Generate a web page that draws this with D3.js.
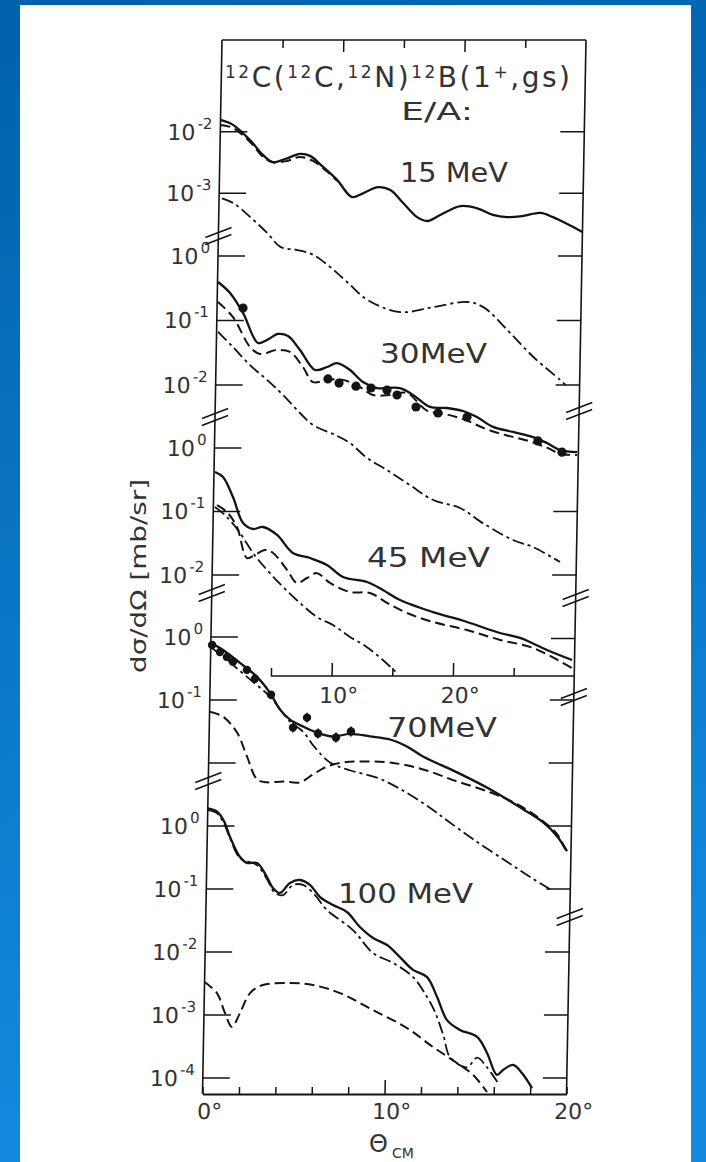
<!DOCTYPE html>
<html><head><meta charset="utf-8">
<script src="https://cdn.jsdelivr.net/npm/d3@7"></script>
<style>body{margin:0;background:#fff}svg{display:block}</style>
</head><body>
<svg id="c" width="706" height="1162"></svg>
<script>
// ---------------- DATA (theta in degrees c.m., dσ/dΩ in mb/sr) ----------------
const panels = ["15", "30", "45", "70", "100"];
const energyLabels = ["15 MeV", "30MeV", "45 MeV", "70MeV", "100 MeV"];

const mev15Solid = [[0,1.55e-2],[1.04,1.29e-2],[2.46,7.3e-3],[3.55,4.2e-3],[4.38,3.2e-3],[5.54,3.7e-3],[6.6,4.35e-3],[7.43,4.05e-3],[8.5,2.7e-3],[9.7,1.65e-3],[10.95,8.7e-4],[11.85,1.0e-3],[13.1,1.26e-3],[14.1,1.13e-3],[15.2,6.9e-4],[16.35,4.1e-4],[17.2,3.55e-4],[18.25,4.45e-4],[19.9,6.2e-4],[21.3,5.7e-4],[22.6,4.45e-4],[23.75,4.1e-4],[25.1,4.3e-4],[26.5,4.8e-4],[27.55,4.1e-4],[28.7,3.2e-4],[30,2.35e-4]];
const mev15Dashed = [[0,1.29e-2],[1.05,1.15e-2],[2.47,6.8e-3],[3.56,3.9e-3],[4.38,3.2e-3],[5.54,3.35e-3],[6.6,3.9e-3],[7.68,3.35e-3],[8.93,2.2e-3],[9.7,1.6e-3]];
const mev15DashDot = [[0.24,8.3e-4],[1.18,6.95e-4],[2.6,4.1e-4],[4.03,2.26e-4],[5.13,1.35e-4],[6.53,1.2e-4],[7.86,1.0e-4],[9.28,6.3e-5],[10.7,3.6e-5],[12.4,1.85e-5],[15.1,1.18e-5],[17.8,1.42e-5],[20.6,1.72e-5],[21.95,1.42e-5],[23.97,6.0e-6],[26.15,2.2e-6],[28.4,9.3e-7],[28.83,7.8e-7]];

const mev30Solid = [[0.04,0.395],[1.05,0.267],[2.15,0.131],[3.43,0.0448],[4.17,0.0499],[5.06,0.0618],[5.89,0.0575],[6.9,0.0349],[8.17,0.0171],[9.15,0.019],[9.97,0.0219],[11.05,0.0171],[12.14,0.0111],[13.3,8.98e-3],[15.2,8.98e-3],[16.29,7.0e-3],[17.7,4.57e-3],[19.1,4.4e-3],[20.43,3.95e-3],[21.59,3.19e-3],[22.93,2.24e-3],[24.58,1.87e-3],[26.24,1.56e-3],[27.4,1.26e-3],[28.5,9.8e-4],[29.9,9.1e-4]];
const mev30Dashed = [[0.07,0.194],[1.33,0.113],[2.78,0.0388],[3.61,0.0303],[5.0,0.0349],[6.08,0.0325],[7.17,0.019],[8.02,0.0111],[9.17,0.012],[10.5,0.012],[11.9,9.3e-3],[12.98,7.0e-3],[14.39,7.0e-3],[15.78,7.5e-3],[17.46,4.0e-3],[19.1,3.5e-3],[20.77,2.8e-3],[22.43,2.05e-3],[24.09,1.65e-3],[25.74,1.38e-3],[27.4,1.07e-3],[28.5,8.6e-4],[29.9,8.2e-4]];
const mev30DashDot = [[0.12,0.0664],[1.37,0.0388],[2.8,0.0204],[4.23,0.012],[5.57,7.0e-3],[7.0,3.68e-3],[8.09,2.4e-3],[9.92,1.68e-3],[11.16,1.26e-3],[12.59,7.4e-4],[14.25,4.8e-4],[16.17,2.8e-4],[18.1,1.65e-4],[20.33,1.24e-4],[22.25,7.2e-5],[24.75,3.95e-5],[26.4,3.08e-5],[28.65,1.8e-5]];
const mev30Data = [[2.14,0.156],[9.25,0.0124],[10.17,0.0107],[11.57,9.6e-3],[12.81,8.98e-3],[14.13,8.36e-3],[14.97,7.0e-3],[16.55,4.56e-3],[18.37,3.68e-3],[20.77,3.19e-3],[26.65,1.36e-3],[28.65,9.1e-4]];

const mev45Solid = [[0.08,0.419],[0.75,0.349],[1.6,0.169],[2.47,0.0659],[3.3,0.053],[4.12,0.057],[5.29,0.0427],[6.63,0.0222],[8.04,0.0185],[9.45,0.0144],[10.79,9.3e-3],[12.78,7.76e-3],[14.1,5.8e-3],[15.52,4.04e-3],[18.26,2.61e-3],[21.08,1.82e-3],[23.81,1.22e-3],[25.47,1.02e-3],[27.71,6.6e-4],[29.8,4.58e-4]];
const mev45Dashed = [[0.3,0.126],[1.13,0.098],[1.98,0.057],[2.85,0.0185],[3.5,0.0207],[4.32,0.0248],[4.99,0.0222],[6.17,0.012],[7.0,7.5e-3],[7.83,8.97e-3],[8.64,0.0107],[9.73,7.5e-3],[11.39,5.4e-3],[13.04,5.2e-3],[14.46,3.63e-3],[16.12,2.52e-3],[18.28,1.82e-3],[21.09,1.36e-3],[23.83,9.5e-4],[26.56,7.1e-4],[29.8,3.43e-4]];
const mev45DashDot = [[0.13,0.118],[1.14,0.0819],[2.24,0.0458],[3.34,0.0222],[4.52,0.012],[5.86,6.5e-3],[7.29,3.62e-3],[8.71,2.18e-3],[10.04,1.63e-3],[11.46,1.06e-3],[12.88,7.3e-4],[14.2,4.58e-4],[15.39,2.86e-4]];

const mev70Solid = [[0,0.804],[0.68,0.623],[1.62,0.388],[2.57,0.233],[3.3,0.13],[3.87,0.0703],[4.43,0.0489],[5.15,0.0379],[5.93,0.0304],[6.81,0.0263],[7.74,0.029],[8.84,0.0265],[9.94,0.0236],[10.88,0.0183],[11.77,0.0127],[13.66,7.1e-3],[15.49,3.83e-3],[17.32,1.85e-3],[18.43,1.15e-3],[19.22,6.9e-4],[19.78,4.0e-4]];
const mev70Dashed = [[0.02,0.0653],[0.74,0.0545],[1.53,0.0304],[2.1,0.0127],[2.68,5.5e-3],[3.23,4.94e-3],[4.11,5.1e-3],[5.04,4.94e-3],[5.75,6.6e-3],[6.51,8.8e-3],[7.39,0.0102],[8.48,0.0106],[9.97,0.0102],[11.79,7.9e-3],[13.67,5.1e-3],[15.49,3.43e-3],[16.99,2.22e-3],[18.27,1.29e-3],[19.22,7.4e-4],[19.67,4.3e-4]];
const mev70DashDot = [[0,0.695],[0.9,0.433],[2.02,0.233],[3.3,0.113],[4.43,0.0454],[5.15,0.0316],[5.8,0.018],[6.67,0.0102],[7.8,7.6e-3],[9.3,5.8e-3],[10.6,3.8e-3],[12.2,1.95e-3],[13.2,1.2e-3],[14.6,6.2e-4],[16.5,2.7e-4],[17.94,1.45e-4],[19.05,9.3e-5]];
const mev70Data = [[0.07,0.748],[0.51,0.579],[0.9,0.483],[1.24,0.403],[2.01,0.301],[2.46,0.217],[3.36,0.121],[4.6,0.0365],[5.36,0.0525],[5.98,0.0294],[6.97,0.0254],[7.79,0.0316]];
const mev70Err = [0.15,0.15,0.15,0.15,0.15,0.15,0.15,0.2,0.2,0.2,0.2,0.2];

const mev100Solid = [[0.01,1.9],[0.5,1.7],[0.9,1.2],[1.25,0.67],[1.82,0.322],[2.21,0.259],[2.76,0.259],[3.32,0.155],[3.66,0.104],[4.05,0.0865],[4.59,0.1245],[5.14,0.139],[5.69,0.116],[6.26,0.0746],[6.98,0.0557],[7.75,0.0431],[8.48,0.0249],[9.21,0.0167],[9.99,0.0129],[10.71,8.3e-3],[11.44,5.2e-3],[12.22,4.0e-3],[12.79,1.93e-3],[13.36,8.3e-4],[14.08,5.8e-4],[15.03,4.5e-4],[15.59,2.5e-4],[16.16,1.12e-4],[16.49,1.34e-4],[17.03,1.61e-4],[17.53,1.2e-4],[18.1,6.9e-5]];
const mev100DashDot = [[0.01,1.79],[0.5,1.6],[0.9,1.1],[1.25,0.645],[1.82,0.31],[2.76,0.24],[3.32,0.144],[3.78,0.0865],[4.22,0.08],[4.76,0.116],[5.31,0.116],[5.98,0.08],[6.65,0.0464],[8.1,0.0223],[9.23,9.6e-3],[10.34,6.7e-3],[11.45,4.0e-3],[12.24,1.93e-3],[12.7,1.1e-3],[13.2,4.5e-4],[13.56,2.15e-4],[14.5,1.48e-4],[15.05,2.1e-4],[15.6,1.48e-4],[16.23,8.3e-5]];
const mev100Dashed = [[0,3.34e-3],[0.69,2.23e-3],[1.15,1.08e-3],[1.55,6.45e-4],[1.98,1.08e-3],[2.51,2.23e-3],[3.21,2.99e-3],[4.7,3.22e-3],[5.96,2.99e-3],[7.45,2.23e-3],[9.28,1.2e-3],[11.17,6.2e-4],[12.62,3.1e-4],[13.95,1.73e-4],[14.85,1.12e-4],[15.63,6.0e-5]];

// tick exponents per panel
const leftTicks = [["15",-2],["15",-3],["30",0],["30",-1],["30",-2],["45",0],["45",-1],["45",-2],["70",0],["70",-1],["70",-2],["100",0],["100",-1],["100",-2],["100",-3],["100",-4]];
const leftLabelled = [["15",-2],["15",-3],["30",0],["30",-1],["30",-2],["45",0],["45",-1],["45",-2],["70",0],["70",-1],["100",0],["100",-1],["100",-2],["100",-3],["100",-4]];
const rightTicks = [["15",-2],["15",-3],["30",0],["30",-1],["30",-2],["45",-1],["45",-2],["45",-3],["70",-1],["70",-2],["100",0],["100",-1],["100",-2],["100",-3],["100",-4]];
const topAxisTicks = [5,10,15,20,25];
const innerAxisTicks = [5,10,15,20,25];
const bottomAxisTicks = [0,2,4,6,8,10,12,14,16,18,20];

// ---------------- LAYOUT ----------------
const W = 364, H = 1054;
const panelLayout = {
  "15":  {dom:[1e-2,1e-3], rng:[91.7,153.3], sec:"top"},
  "30":  {dom:[1,1e-2],    rng:[216,345],    sec:"top"},
  "45":  {dom:[1,1e-2],    rng:[408,535],    sec:"top"},
  "70":  {dom:[1,1e-1],    rng:[597,660],    sec:"bot"},
  "100": {dom:[1,1e-4],    rng:[786,1038],   sec:"bot"}
};
const leftBreaks = [196, 377, 553, 741];
const rightBreaks = [371, 558, 657, 877];
const innerAxisY = 636;

const FONT = "'DejaVu Sans', sans-serif";
const INK = "#141414", TXT = "#333333";

const svg = d3.select("#c");
const defs = svg.append("defs");
const gr = defs.append("linearGradient").attr("id","bg").attr("x1",0).attr("y1",0).attr("x2",0.15).attr("y2",1);
gr.append("stop").attr("offset","0%").attr("stop-color","#0061ab");
gr.append("stop").attr("offset","100%").attr("stop-color","#148ade");
svg.append("rect").attr("width",706).attr("height",1162).attr("fill","url(#bg)");
svg.append("rect").attr("x",20).attr("y",5).attr("width",671).attr("height",1160).attr("fill","#fff");

const xTop = d3.scaleLinear().domain([0,30]).range([0,W]);
const xBot = d3.scaleLinear().domain([0,20]).range([0,W]);
const yS = {};
panels.forEach(p => { yS[p] = d3.scaleLog().domain(panelLayout[p].dom).range(panelLayout[p].rng); });
const xS = p => panelLayout[p].sec === "top" ? xTop : xBot;

const plot = svg.append("g").attr("transform","translate(222,40) skewX(-1.06)");

// frame
const frame = plot.append("g").attr("stroke",INK).attr("stroke-width",1.6).attr("fill","none");
frame.append("line").attr("x1",0).attr("y1",0).attr("x2",0).attr("y2",H);
frame.append("line").attr("x1",W).attr("y1",0).attr("x2",W).attr("y2",H);
frame.append("line").attr("x1",0).attr("y1",0).attr("x2",W).attr("y2",0);

// top axis (0-30 deg) ticks hanging down
const topAx = plot.append("g").call(d3.axisTop(xTop).tickValues(topAxisTicks).tickSize(-8).tickSizeOuter(0).tickFormat(""));
topAx.select(".domain").remove();
topAx.selectAll(".tick line").attr("stroke",INK).attr("stroke-width",1.5).attr("y2", d => d % 10 === 0 ? 12 : 8);

// inner axis for upper section (0-30 deg)
const inner = plot.append("g").attr("transform",`translate(0,${innerAxisY})`)
  .call(d3.axisBottom(xTop).tickValues(innerAxisTicks).tickSize(-8).tickPadding(11).tickSizeOuter(0)
    .tickFormat(d => d % 10 === 0 ? d + "°" : ""));
inner.select(".domain").remove();
inner.append("line").attr("x1",xTop(5)).attr("x2",xTop(30)).attr("stroke",INK).attr("stroke-width",1.6);
inner.selectAll(".tick line").attr("stroke",INK).attr("stroke-width",1.5).attr("y2", d => d % 10 === 0 ? -13 : -8);
inner.selectAll(".tick text").attr("font-family",FONT).attr("font-size",22).attr("fill",TXT).attr("dx",7);

// bottom axis (0-20 deg)
const bot = plot.append("g").attr("transform",`translate(0,${H})`)
  .call(d3.axisBottom(xBot).tickValues(bottomAxisTicks).tickSize(-7).tickPadding(9).tickSizeOuter(0)
    .tickFormat(d => d % 10 === 0 ? d + "°" : ""));
bot.select(".domain").attr("stroke",INK).attr("stroke-width",1.8);
bot.selectAll(".tick line").attr("stroke",INK).attr("stroke-width",1.5).attr("y2", d => d === 10 ? -14 : -7);
bot.selectAll(".tick text").attr("font-family",FONT).attr("font-size",22).attr("fill",TXT).attr("dx",7);

// y ticks
plot.append("g").selectAll("line.lt").data(leftTicks).join("line")
  .attr("x1",0).attr("x2",27).attr("y1",d => yS[d[0]](Math.pow(10,d[1]))).attr("y2",d => yS[d[0]](Math.pow(10,d[1])))
  .attr("stroke",INK).attr("stroke-width",1.5);
plot.append("g").selectAll("line.rt").data(rightTicks).join("line")
  .attr("x1",W-24).attr("x2",W).attr("y1",d => yS[d[0]](Math.pow(10,d[1]))).attr("y2",d => yS[d[0]](Math.pow(10,d[1])))
  .attr("stroke",INK).attr("stroke-width",1.5);

// y tick labels
const yl = plot.append("g").selectAll("text").data(leftLabelled).join("text")
  .attr("x",-8).attr("y",d => yS[d[0]](Math.pow(10,d[1])) + 8)
  .attr("text-anchor","end").attr("font-family",FONT).attr("fill",TXT);
yl.append("tspan").attr("font-size",22).text("10");
yl.append("tspan").attr("font-size",15).attr("dy",-11).attr("dx",2).text(d => d[1] === 0 ? "0" : String(d[1]));

// axis breaks "//"
function drawBreak(x, y) {
  [-3.5, 3.5].forEach(o => {
    plot.append("line").attr("x1",x-13).attr("y1",y+o+5).attr("x2",x+13).attr("y2",y+o-5)
      .attr("stroke",INK).attr("stroke-width",1.6);
  });
}
leftBreaks.forEach(y => drawBreak(0, y));
rightBreaks.forEach(y => drawBreak(W, y));

// curves
const curves = [
  ["15","solid",mev15Solid],["15","dashed",mev15Dashed],["15","dashdot",mev15DashDot],
  ["30","solid",mev30Solid],["30","dashed",mev30Dashed],["30","dashdot",mev30DashDot],
  ["45","solid",mev45Solid],["45","dashed",mev45Dashed],["45","dashdot",mev45DashDot],
  ["70","solid",mev70Solid],["70","dashed",mev70Dashed],["70","dashdot",mev70DashDot],
  ["100","solid",mev100Solid],["100","dashed",mev100Dashed],["100","dashdot",mev100DashDot]
];
const styles = {
  solid:  {w:2.3, dash:null},
  dashed: {w:2.0, dash:"10,5"},
  dashdot:{w:1.8, dash:"12,4,3,4"}
};
curves.forEach(([p, s, data]) => {
  const line = d3.line().x(d => xS(p)(d[0])).y(d => yS[p](d[1])).curve(d3.curveCatmullRom.alpha(0.5));
  plot.append("path").datum(data).attr("d", line).attr("fill","none")
    .attr("stroke",INK).attr("stroke-width",styles[s].w).attr("stroke-dasharray",styles[s].dash)
    .attr("stroke-linejoin","round");
});

// data points
plot.append("g").selectAll("circle").data(mev30Data).join("circle")
  .attr("cx",d => xTop(d[0])).attr("cy",d => yS["30"](d[1])).attr("r",4.6).attr("fill",INK);
const g70 = plot.append("g");
g70.selectAll("line").data(mev70Data).join("line")
  .attr("x1",d => xBot(d[0])).attr("x2",d => xBot(d[0]))
  .attr("y1",(d,i) => yS["70"](d[1]*(1+mev70Err[i]))).attr("y2",(d,i) => yS["70"](d[1]/(1+mev70Err[i])))
  .attr("stroke",INK).attr("stroke-width",1.6);
g70.selectAll("circle").data(mev70Data).join("circle")
  .attr("cx",d => xBot(d[0])).attr("cy",d => yS["70"](d[1])).attr("r",4.2).attr("fill",INK);

// ---------------- TEXT (page coordinates) ----------------
const ann = svg.append("g").attr("font-family",FONT).attr("fill",TXT);
const title = ann.append("text").attr("x",225).attr("y",87).attr("font-size",28)
  .attr("textLength",345).attr("lengthAdjust","spacing");
[["12",1],["C(",0],["12",1],["C,",0],["12",1],["N)",0],["12",1],["B(1",0],["+",1],[",gs)",0]].forEach(([t,sup]) => {
  const ts = title.append("tspan").text(t);
  if (sup) ts.attr("font-size",17).attr("baseline-shift","55%");
});
ann.append("text").attr("x",401).attr("y",120).attr("font-size",25).attr("textLength",72).attr("lengthAdjust","spacingAndGlyphs").text("E/A:");

const labelPos = [[400,182,108],[380,363,107],[367,567,123],[387,737,110],[338,903,135]];
energyLabels.forEach((t,i) => {
  ann.append("text").attr("x",labelPos[i][0]).attr("y",labelPos[i][1]).attr("font-size",26)
    .attr("textLength",labelPos[i][2]).attr("lengthAdjust","spacingAndGlyphs").text(t);
});

// axis titles
const xt = ann.append("text").attr("x",369).attr("y",1152).attr("font-size",24);
xt.append("tspan").text("Θ");
xt.append("tspan").attr("font-size",14).attr("dx",4).attr("dy",6).text("CM");
ann.append("text").attr("transform","translate(146,576) rotate(-90)").attr("text-anchor","middle")
  .attr("font-size",21).attr("textLength",194).attr("lengthAdjust","spacingAndGlyphs").text("dσ/dΩ [mb/sr]");
</script>
</body></html>
